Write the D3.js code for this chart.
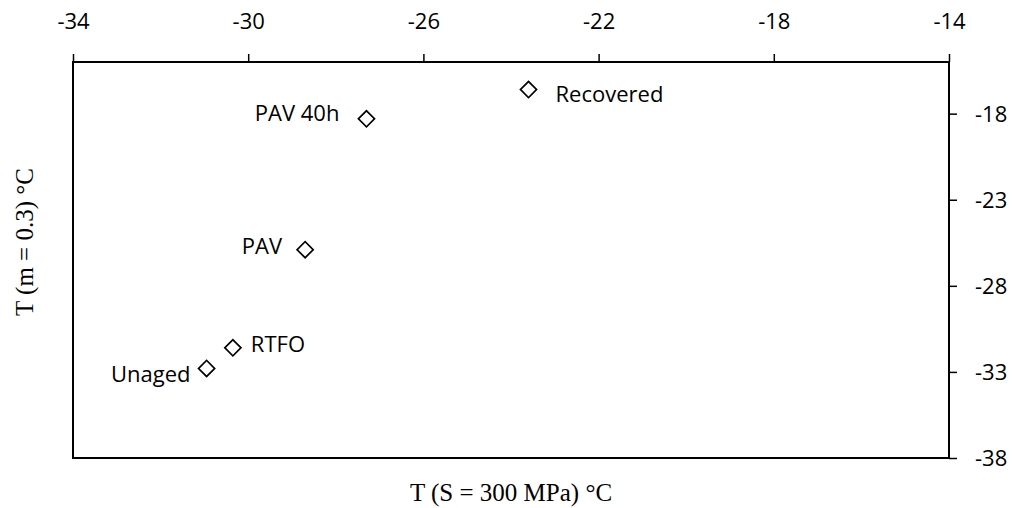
<!DOCTYPE html>
<html><head><meta charset="utf-8">
<script src="https://cdn.jsdelivr.net/npm/d3@7"></script>
<style>body{margin:0;background:#fff}svg{display:block}</style>
</head><body>
<svg id="c" width="1015" height="508"></svg>
<script>
const labels = ["Unaged", "RTFO", "PAV", "PAV 40h", "Recovered"];
const xValues = [-30.95, -30.35, -28.7, -27.3, -23.6];
const yValues = [-32.8, -31.6, -25.9, -18.3, -16.6];
const xTicks = [-34, -30, -26, -22, -18, -14];
const yTicks = [-38, -33, -28, -23, -18];
const xTitle = "T (S = 300 MPa) °C";
const yTitle = "T (m = 0.3) °C";
// label placement: [anchor, dx, dy]
const labelPos = [["end", -16, 14], ["start", 18, 4], ["end", -23, 4], ["end", -27, 2], ["start", 27, 12]];

const svg = d3.select("#c");
const L = 73, R = 949, T = 62, B = 458;
const x = d3.scaleLinear().domain([-34, -14]).range([L, R]);
const y = d3.scaleLinear().domain([-38, -15]).range([B, T]);
const font = "'Open Sans', sans-serif";
const fmt = d => d < 0 ? "-" + Math.abs(d) : String(d);

const gx = svg.append("g").attr("transform", `translate(0,${T})`)
  .call(d3.axisTop(x).tickValues(xTicks).tickSize(8));
gx.select(".domain").remove();
gx.selectAll(".tick line").attr("stroke", "#000").attr("stroke-width", 1.5);
gx.selectAll("text").attr("font-family", font).attr("font-size", 22).attr("fill", "#000")
  .attr("y", -33).attr("dy", 0).text(fmt);

const gy = svg.append("g").attr("transform", `translate(${R},0)`)
  .call(d3.axisRight(y).tickValues(yTicks).tickSize(8));
gy.select(".domain").remove();
gy.selectAll(".tick line").attr("stroke", "#000").attr("stroke-width", 1.5);
gy.selectAll("text").attr("font-family", font).attr("font-size", 22).attr("fill", "#000")
  .attr("x", 26).attr("dy", "0.36em").text(fmt);

svg.append("rect").attr("x", L).attr("y", T).attr("width", R - L).attr("height", B - T)
  .attr("fill", "none").attr("stroke", "#000").attr("stroke-width", 2);

const data = labels.map((l, i) => ({l, x: xValues[i], y: yValues[i], p: labelPos[i]}));
const sym = d3.symbol().type(d3.symbolSquare).size(130);
svg.append("g").selectAll("path").data(data).join("path")
  .attr("d", sym).attr("transform", d => `translate(${x(d.x)},${y(d.y)}) rotate(45)`)
  .attr("fill", "#fff").attr("stroke", "#000").attr("stroke-width", 1.7);

svg.append("g").selectAll("text").data(data).join("text")
  .attr("x", d => x(d.x) + d.p[1]).attr("y", d => y(d.y) + d.p[2])
  .attr("text-anchor", d => d.p[0]).attr("font-family", font).attr("font-size", 22).attr("fill", "#000")
  .text(d => d.l);

svg.append("text").attr("x", 511).attr("y", 501).attr("text-anchor", "middle")
  .attr("font-family", "'Liberation Serif', serif").attr("font-size", 25).text(xTitle);
svg.append("text").attr("transform", "translate(33,242) rotate(-90)").attr("text-anchor", "middle")
  .attr("font-family", "'Liberation Serif', serif").attr("font-size", 25).text(yTitle);
</script>
</body></html>
